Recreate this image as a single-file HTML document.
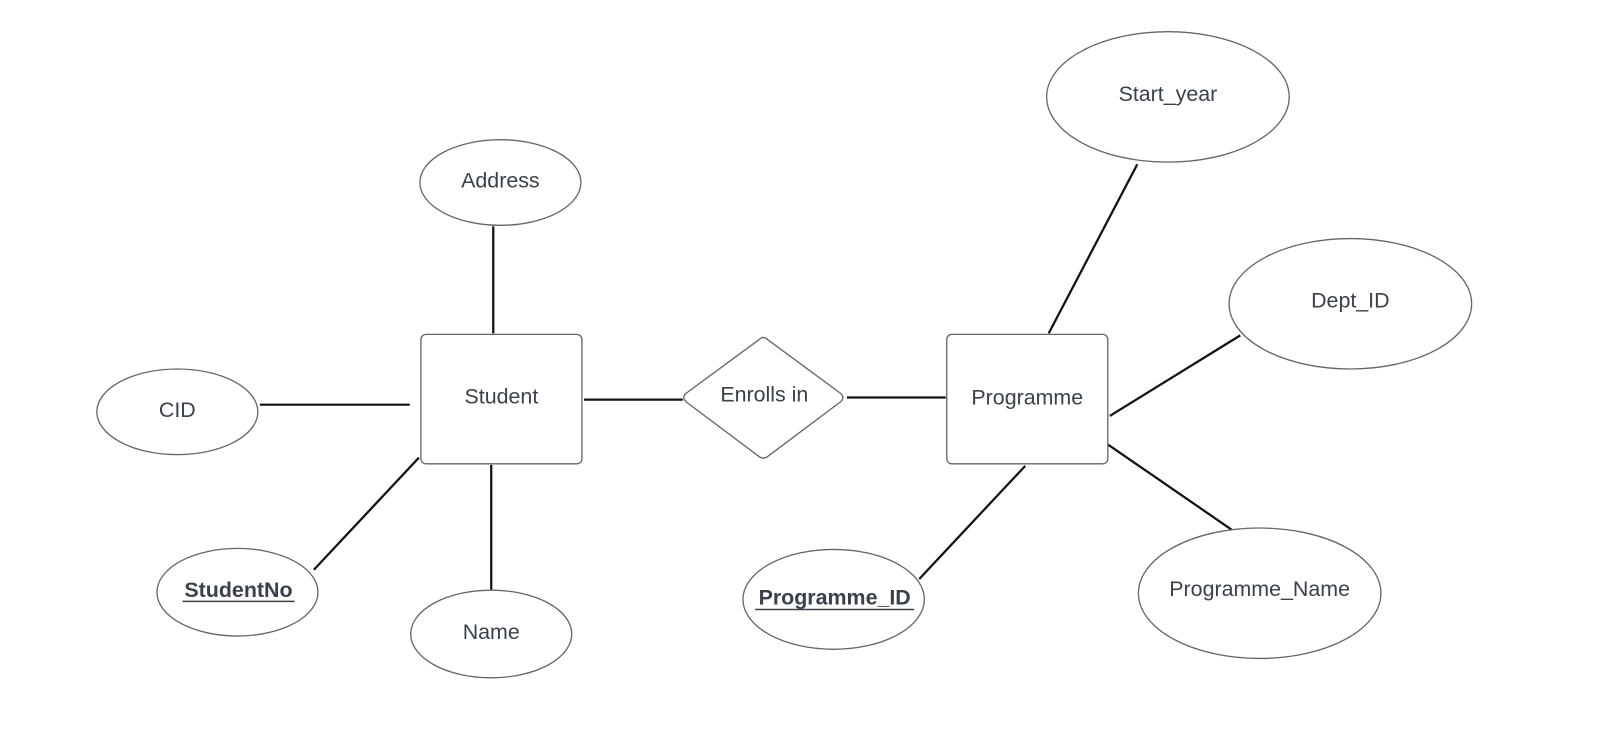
<!DOCTYPE html>
<html><head><meta charset="utf-8"><style>
html,body{margin:0;padding:0;background:#fff;}
svg{display:block}
text{font-family:"Liberation Sans",Arial,sans-serif;font-size:21px;fill:#3a414a;text-anchor:middle;dominant-baseline:central}
</style></head><body>
<svg width="1598" height="736" viewBox="0 0 1568 722" xmlns="http://www.w3.org/2000/svg">
<g stroke="#111" stroke-width="2.2" fill="none">
<line x1="484" y1="222" x2="484" y2="327"/>
<line x1="255" y1="397" x2="402" y2="397"/>
<line x1="308" y1="559" x2="411" y2="449"/>
<line x1="482" y1="456" x2="482" y2="580"/>
<line x1="573" y1="392" x2="670" y2="392"/>
<line x1="831" y1="390" x2="928" y2="390"/>
<line x1="1116" y1="161" x2="1029" y2="327"/>
<line x1="1217" y1="329" x2="1089" y2="408"/>
<line x1="1087" y1="436" x2="1209" y2="520"/>
<line x1="1006" y1="457" x2="902" y2="568"/>
</g>
<g stroke="#666" stroke-width="1.3" fill="#fff">
<ellipse cx="491" cy="179" rx="79" ry="42"/>
<ellipse cx="174" cy="404" rx="79" ry="42"/>
<ellipse cx="233" cy="581" rx="79" ry="43"/>
<ellipse cx="482" cy="622" rx="79" ry="43"/>
<ellipse cx="1146" cy="95" rx="119" ry="64"/>
<ellipse cx="1325" cy="298" rx="119" ry="64"/>
<ellipse cx="1236" cy="582" rx="119" ry="64"/>
<ellipse cx="818" cy="588" rx="89" ry="49"/>
<rect x="413" y="328" width="158" height="127" rx="5"/>
<rect x="929" y="328" width="158" height="127" rx="5"/>
<path d="M745 333 Q749 329 753 333 L825 386 Q829 390 825 394 L753 448 Q749 451 745 448 L673 394 Q669 390 673 386 Z"/>
</g>
<text x="491" y="177">Address</text>
<text x="174" y="402">CID</text>
<text x="234" y="579" font-weight="bold">StudentNo</text>
<line x1="179" y1="590" x2="289" y2="590" stroke="#3a414a" stroke-width="1.5"/>
<text x="482" y="620">Name</text>
<text x="492" y="389">Student</text>
<text x="750" y="387">Enrolls in</text>
<text x="1008" y="390">Programme</text>
<text x="1146" y="92">Start_year</text>
<text x="1325" y="295">Dept_ID</text>
<text x="1236" y="578">Programme_Name</text>
<text x="819" y="586" font-weight="bold">Programme_ID</text>
<line x1="741" y1="598" x2="897" y2="598" stroke="#3a414a" stroke-width="1.5"/>
</svg>
</body></html>
